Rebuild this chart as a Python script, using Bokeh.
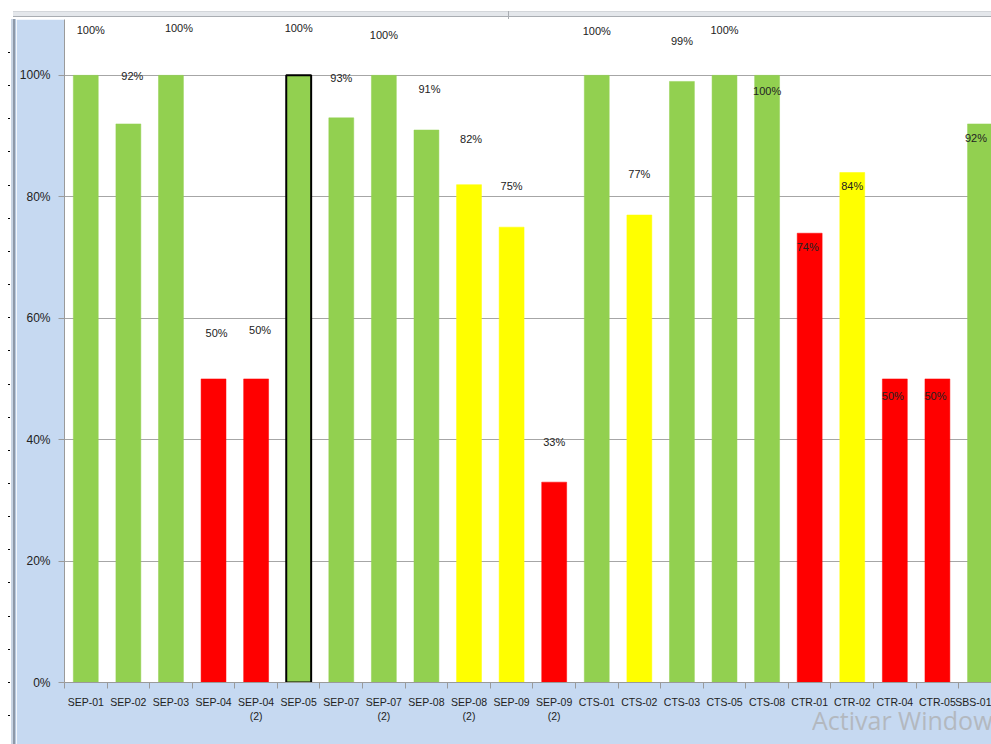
from bokeh.plotting import figure
from bokeh.models import (ColumnDataSource, Range1d, FixedTicker, NumeralTickFormatter, Div)
from bokeh.layouts import column, row
from bokeh.embed import file_html
from bokeh.resources import INLINE
from bokeh.core.properties import value

# ---------------- data ----------------
categories = ["SEP-01", "SEP-02", "SEP-03", "SEP-04", "SEP-04\n(2)", "SEP-05",
              "SEP-07", "SEP-07\n(2)", "SEP-08", "SEP-08\n(2)", "SEP-09", "SEP-09\n(2)",
              "CTS-01", "CTS-02", "CTS-03", "CTS-05", "CTS-08",
              "CTR-01", "CTR-02", "CTR-04", "CTR-05", "SBS-01"]
percent = [100, 92, 100, 50, 50, 100, 93, 100, 91, 82, 75, 33,
           100, 77, 99, 100, 100, 74, 84, 50, 50, 92]
status = ["ok", "ok", "ok", "bad", "bad", "ok", "ok", "ok", "ok", "warn", "warn", "bad",
          "ok", "warn", "ok", "ok", "ok", "bad", "warn", "bad", "bad", "ok"]
selected = "SEP-05"
y_ticks = [0, 0.2, 0.4, 0.6, 0.8, 1.0]
watermark = "Activar Windows"

# ---------------- styles ----------------
status_colors = {"ok": "#92D050", "warn": "#FFFF00", "bad": "#FF0000"}
# pixel offsets of the data labels relative to the bar tops (as placed in the source chart)
label_dx = [5, 4, 8, 3, 4, 0, 0, 0, 3, 2, 0, 0, 0, 0, 0, 0, 0, -2, 0, -2, -2, -4]
label_dy = [-45, -48, -47, -46, -49, -47, -40, -40, -41, -46, -41, -40,
            -44, -41, -40, -45, 16, 14, 13, 17, 17, 14]

FONT = "Liberation Sans"
BLUE = "#C6D9F1"

n = len(categories)
xs = [i + 0.5 for i in range(n)]
fills = [status_colors[s] for s in status]
lines = ["#000000" if c == selected else f for c, f in zip(categories, fills)]
lws = [2 if c == selected else 0.5 for c in categories]

src = ColumnDataSource(dict(
    x=xs, top=[v / 100 for v in percent], label=[f"{v}%" for v in percent],
    color=fills, line_color=lines, line_width=lws, dx=label_dx, dy=label_dy,
))

p = figure(width=975, height=725, x_range=Range1d(0, 21.77), y_range=Range1d(0, 1.092),
           output_backend="svg", toolbar_location=None,
           min_border_left=45, min_border_right=0, min_border_top=0, min_border_bottom=62,
           background_fill_color="white", border_fill_color=BLUE,
           outline_line_color=None, margin=0)

p.vbar(x="x", top="top", width=0.585, source=src, fill_color="color",
       line_color="line_color", line_width="line_width")

p.text(x="x", y="top", text="label", x_offset="dx", y_offset="dy", source=src,
       text_align="center", text_baseline="middle", text_font=value(FONT),
       text_font_size="11px", text_color="#222222")

# y axis
p.yaxis.ticker = FixedTicker(ticks=y_ticks)
p.yaxis.formatter = NumeralTickFormatter(format="0%")
p.yaxis.major_tick_out = 6
p.yaxis.major_tick_in = 0
p.yaxis.minor_tick_line_color = None
p.yaxis.axis_line_color = "#9A9A9A"
p.yaxis.major_tick_line_color = "#9A9A9A"
p.yaxis.major_label_standoff = 8
p.yaxis.major_label_text_font = FONT
p.yaxis.major_label_text_font_size = "12px"
p.yaxis.major_label_text_color = "#222222"

# x axis
p.xaxis.ticker = FixedTicker(ticks=xs, minor_ticks=list(range(n + 1)))
p.xaxis.major_label_overrides = {x: c for x, c in zip(xs, categories)}
p.xaxis.major_tick_line_color = None
p.xaxis.major_tick_out = 0
p.xaxis.major_tick_in = 0
p.xaxis.minor_tick_out = 6
p.xaxis.minor_tick_in = 0
p.xaxis.minor_tick_line_color = "#9A9A9A"
p.xaxis.axis_line_color = "#9A9A9A"
p.xaxis.major_label_standoff = 7
p.xaxis.major_label_text_font = FONT
p.xaxis.major_label_text_font_size = "10.5px"
p.xaxis.major_label_text_color = "#222222"

p.xgrid.visible = False
p.ygrid.grid_line_color = "#A6A6A6"

# ---------------- surrounding spreadsheet chrome ----------------
top_html = (
    '<div style="position:relative;width:991px;height:19px;background:#fff;">'
    '<div style="position:absolute;left:13px;top:11px;width:978px;height:6px;'
    'background:#E4E7EB;border-top:1px solid #D3D6DA;border-bottom:1px solid #A9ADB2;"></div>'
    '<div style="position:absolute;left:508px;top:11px;width:1px;height:8px;background:#A9ADB2;"></div>'
    '</div>'
)
ticks_html = "".join(
    f'<div style="position:absolute;left:8px;top:{33 + 33.15 * k:.1f}px;width:2px;height:1px;background:#000;"></div>'
    for k in range(21)
)
watermark_html = (
    '<div style="position:absolute;left:812px;top:689px;width:179px;height:32px;'
    'overflow:hidden;z-index:20;pointer-events:none;">'
    '<div style="white-space:nowrap;font-family:\'Open Sans\';font-size:25px;line-height:25px;'
    f'color:#B3B8BF;">{watermark}</div></div>'
)
left_html = (
    '<div style="position:relative;width:16px;height:725px;'
    'background:linear-gradient(to right,#fff 0 11px,#C9D5E4 11px 13px,#8E99A8 13px 15px,#B9C9DD 15px);">'
    + ticks_html + watermark_html + '</div>'
)
top_div = Div(text=top_html, width=991, height=19, margin=0)
left_div = Div(text=left_html, width=16, height=725, margin=0, styles={"z-index": "20", "overflow": "visible"})

layout = column(top_div, row(left_div, p, spacing=0, margin=0), spacing=0, margin=0)

open("out.html", "w").write(file_html(layout, INLINE))
